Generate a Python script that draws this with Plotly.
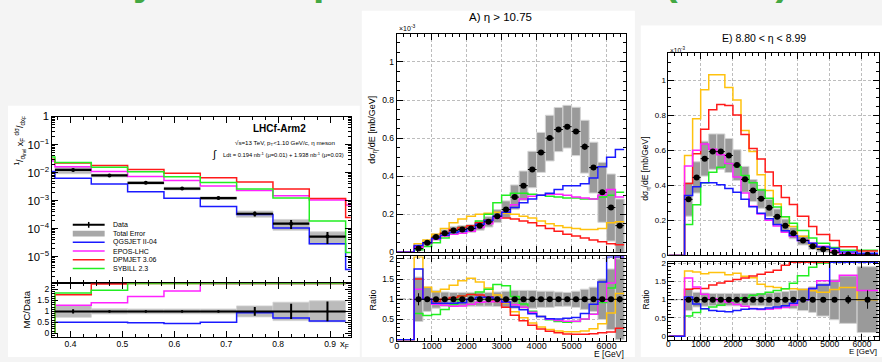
import plotly.graph_objects as go

W, H = 882, 362
FONT = "Liberation Sans"

# ---------------- left panel: x_F spectrum (LHCf Arm2, eta meson) ----------------
xf_edges = [0.37, 0.44, 0.51, 0.58, 0.65, 0.72, 0.79, 0.86, 0.93]
xf_data = [1.25e-2, 7.9e-3, 4.3e-3, 2.7e-3, 1.23e-3, 3.4e-4, 1.5e-4, 5.2e-5]
xf_stat_rel = [0.10, 0.05, 0.05, 0.05, 0.05, 0.20, 0.35, 0.45]
xf_tot_rel = [0.27, 0.12, 0.11, 0.11, 0.11, 0.25, 0.42, 0.48]

# model histograms: a narrow bin below 0.37, the 8 analysis bins, a narrow bin above 0.93
xf_mc_edges = [0.364, 0.37, 0.44, 0.51, 0.58, 0.65, 0.72, 0.79, 0.86, 0.93, 0.94]
xf_qgsjet = [1.1e-2, 6.3e-3, 3.95e-3, 2.06e-3, 1.22e-3, 6.2e-4, 3.2e-4, 1.05e-4, 2.9e-5, 3.5e-6]
xf_epos = [2.6e-2, 1.6e-2, 1.1e-2, 7.2e-3, 5.2e-3, 3.3e-3, 2.3e-3, 1.5e-3, 1.05e-3, 7.0e-4]
xf_dpmjet = [3.0e-2, 2.2e-2, 1.78e-2, 1.29e-2, 9.5e-3, 6.5e-3, 4.6e-3, 2.6e-3, 1.2e-3, 2.5e-4]
xf_sibyll = [3.6e-2, 2.3e-2, 1.55e-2, 1.07e-2, 7.1e-3, 4.4e-3, 2.6e-3, 1.23e-3, 1.86e-4, 1.4e-5]

# ---------------- panel A: eta > 10.75, energy spectrum [x1e-3 mb/GeV] ----------------
a_edges = [0, 250, 500, 750, 1000, 1250, 1500, 1750, 2000, 2250, 2500, 2750, 3000, 3250,
           3500, 3750, 4000, 4250, 4500, 4750, 5000, 5250, 5500, 5750, 6000, 6250, 6500]
a_data = [0.020, 0.050, 0.080, 0.100, 0.115, 0.120, 0.125, 0.140, 0.160, 0.190, 0.225, 0.290,
          0.350, 0.435, 0.525, 0.600, 0.645, 0.660, 0.635, 0.555, 0.445, 0.315, 0.235, 0.140]
a_stat_rel = [0.15, 0.06, 0.04, 0.03, 0.03, 0.03, 0.03, 0.03, 0.03, 0.03, 0.03, 0.03,
              0.03, 0.02, 0.02, 0.02, 0.02, 0.02, 0.02, 0.03, 0.03, 0.04, 0.05, 0.08]
a_tot_rel = [0.55, 0.30, 0.22, 0.18, 0.17, 0.17, 0.17, 0.17, 0.17, 0.18, 0.20, 0.22,
             0.22, 0.22, 0.20, 0.20, 0.18, 0.17, 0.20, 0.25, 0.30, 0.50, 0.75, 1.00]
a_qgsjet = [0, 0, 0.035, 0.050, 0.072, 0.090, 0.104, 0.110, 0.125, 0.147, 0.168, 0.190, 0.210,
            0.235, 0.260, 0.280, 0.300, 0.310, 0.330, 0.350, 0.350, 0.360, 0.390, 0.450, 0.500, 0.540]
a_epos = [0, 0, 0.025, 0.050, 0.070, 0.085, 0.095, 0.100, 0.110, 0.130, 0.150, 0.180, 0.210,
          0.250, 0.280, 0.295, 0.300, 0.305, 0.305, 0.300, 0.290, 0.285, 0.280, 0.300, 0.330, 0.290]
a_dpmjet = [0, 0, 0.030, 0.050, 0.075, 0.100, 0.120, 0.130, 0.140, 0.155, 0.170, 0.180, 0.180,
            0.175, 0.165, 0.155, 0.140, 0.125, 0.110, 0.095, 0.085, 0.075, 0.065, 0.055, 0.045, 0.040]
a_sibyll = [0, 0, 0.013, 0.030, 0.050, 0.075, 0.100, 0.130, 0.140, 0.165, 0.200, 0.260, 0.300,
            0.310, 0.310, 0.305, 0.300, 0.295, 0.290, 0.285, 0.285, 0.280, 0.280, 0.290, 0.300, 0.315]
a_pythia = [0, 0, 0.045, 0.065, 0.095, 0.125, 0.155, 0.175, 0.190, 0.200, 0.205, 0.210, 0.205,
            0.200, 0.190, 0.180, 0.165, 0.150, 0.140, 0.130, 0.125, 0.120, 0.120, 0.125, 0.155, 0.160]

# ---------------- panel E: 8.80 < eta < 8.99 ----------------
e_edges = [0, 250, 500, 750, 1000, 1250, 1500, 1750, 2000, 2250, 2500, 2750, 3000, 3250,
           3500, 3750, 4000, 4350, 4600, 5000, 5300, 5850, 6500]
e_data = [0.320, 0.445, 0.552, 0.592, 0.592, 0.570, 0.515, 0.434, 0.370, 0.324, 0.272, 0.221,
          0.170, 0.127, 0.086, 0.053, 0.035, 0.018, 0.006, 0.004]
e_stat_rel = [0.03, 0.02, 0.02, 0.02, 0.02, 0.02, 0.02, 0.02, 0.02, 0.02, 0.02, 0.02,
              0.02, 0.03, 0.03, 0.03, 0.04, 0.05, 0.12, 0.25]
e_tot_rel = [0.30, 0.20, 0.18, 0.17, 0.17, 0.17, 0.17, 0.17, 0.17, 0.17, 0.18, 0.20,
             0.22, 0.25, 0.30, 0.35, 0.45, 0.55, 0.65, 0.90]
e_qgsjet = [0, 0, 0.342, 0.392, 0.414, 0.414, 0.403, 0.382, 0.361, 0.321, 0.278, 0.240, 0.209,
            0.177, 0.141, 0.114, 0.086, 0.069, 0.049, 0.040, 0.020, 0.012]
e_epos = [0, 0, 0.510, 0.600, 0.635, 0.605, 0.574, 0.524, 0.448, 0.356, 0.281, 0.237, 0.201,
          0.168, 0.133, 0.108, 0.086, 0.069, 0.053, 0.027, 0.010, 0.005]
e_dpmjet = [0, 0, 0.410, 0.580, 0.720, 0.830, 0.860, 0.855, 0.800, 0.690, 0.610, 0.550, 0.476,
            0.398, 0.330, 0.290, 0.224, 0.165, 0.120, 0.085, 0.050, 0.025]
e_sibyll = [0, 0, 0.176, 0.289, 0.414, 0.474, 0.503, 0.524, 0.505, 0.456, 0.414, 0.373, 0.326,
            0.276, 0.221, 0.184, 0.142, 0.100, 0.070, 0.045, 0.030, 0.030]
e_pythia = [0, 0, 0.570, 0.780, 0.944, 1.030, 1.030, 0.958, 0.886, 0.712, 0.592, 0.460, 0.370,
            0.294, 0.221, 0.165, 0.110, 0.066, 0.042, 0.023, 0.008, 0.004]

BLUE, MAGENTA, RED, GREEN, ORANGE = "#1a1aff", "#ff22ff", "#ff1a1a", "#22ee22", "#ffc20e"


def px(x):
    return x / W


def py(y):
    return 1 - y / H


def centers(edges):
    return [(a + b) / 2 for a, b in zip(edges[:-1], edges[1:])]


def widths(edges):
    return [b - a for a, b in zip(edges[:-1], edges[1:])]


def step(edges, vals, color, xa, ya, width=1.5):
    return go.Scatter(x=list(edges), y=list(vals) + [vals[-1]], mode="lines",
                      line=dict(color=color, width=width, shape="hv"),
                      xaxis=xa, yaxis=ya, showlegend=False, hoverinfo="skip")


def ratio(mc, data, offset, top):
    out = []
    for i, v in enumerate(mc):
        j = i - offset
        r = v / data[j] if 0 <= j < len(data) and data[j] > 0 else 0.0
        out.append(min(r, top))
    return out


def err_boxes(edges, lo, hi, xa, ya, color="#9a9a9a", edge="#d4d4d4"):
    return go.Bar(x=centers(edges), y=[h - l for l, h in zip(lo, hi)], base=lo,
                  width=widths(edges), marker=dict(color=color, line=dict(color=edge, width=1)),
                  xaxis=xa, yaxis=ya, showlegend=False, hoverinfo="skip")


fig = go.Figure()

# ---- left panel ----
xf_lo = [d * (1 - e) for d, e in zip(xf_data, xf_tot_rel)]
xf_hi = [d * (1 + e) for d, e in zip(xf_data, xf_tot_rel)]
fig.add_trace(err_boxes(xf_edges, xf_lo, xf_hi, "x", "y", color="rgba(150,150,150,0.65)", edge="rgba(210,210,210,0.8)"))
for vals, col in [(xf_qgsjet, BLUE), (xf_epos, MAGENTA), (xf_dpmjet, RED), (xf_sibyll, GREEN)]:
    fig.add_trace(step(xf_mc_edges, vals, col, "x", "y"))
fig.add_trace(go.Scatter(
    x=centers(xf_edges), y=xf_data, mode="markers", marker=dict(color="black", size=4),
    error_x=dict(type="data", array=[w / 2 for w in widths(xf_edges)], width=0, thickness=2.2, color="black"),
    error_y=dict(type="data", array=[d * s for d, s in zip(xf_data, xf_stat_rel)], width=0, thickness=2, color="black"),
    xaxis="x", yaxis="y", showlegend=False, hoverinfo="skip"))

XF_RTOP = 2.27
fig.add_trace(err_boxes(xf_edges, [1 - e for e in xf_tot_rel], [1 + e for e in xf_tot_rel], "x2", "y2",
                        color="rgba(150,150,150,0.65)", edge="rgba(210,210,210,0.8)"))
for vals, col in [(xf_qgsjet, BLUE), (xf_epos, MAGENTA), (xf_dpmjet, RED), (xf_sibyll, GREEN)]:
    r = ratio(vals[1:9], xf_data, 0, XF_RTOP)
    fig.add_trace(step([xf_edges[0]] + xf_edges, [0.0] + r, col, "x2", "y2"))
xf_one = [d / d for d in xf_data]
fig.add_trace(step(xf_edges, xf_one, "black", "x2", "y2", width=2))
fig.add_trace(go.Scatter(
    x=centers(xf_edges), y=xf_one, mode="markers", marker=dict(color="black", size=2),
    error_y=dict(type="data", array=xf_stat_rel, width=0, thickness=2, color="black"),
    xaxis="x2", yaxis="y2", showlegend=False, hoverinfo="skip"))


def energy_panel(edges, data, stat_rel, tot_rel, models, xa_u, ya_u, xa_r, ya_r, rtop):
    dedges = edges[2:]
    lo = [max(d * (1 - e), 0) for d, e in zip(data, tot_rel)]
    hi = [d * (1 + e) for d, e in zip(data, tot_rel)]
    fig.add_trace(err_boxes(dedges, lo, hi, xa_u, ya_u))
    for vals, col in models:
        fig.add_trace(step(edges, vals, col, xa_u, ya_u))
    fig.add_trace(go.Scatter(
        x=centers(dedges), y=data, mode="markers", marker=dict(color="black", size=6),
        error_x=dict(type="data", array=[w / 2 for w in widths(dedges)], width=0, thickness=1, color="black"),
        error_y=dict(type="data", array=[d * s for d, s in zip(data, stat_rel)], width=0, thickness=1, color="black"),
        xaxis=xa_u, yaxis=ya_u, showlegend=False, hoverinfo="skip"))
    # ratio pad
    fig.add_trace(err_boxes(dedges, [1 - e for e in tot_rel], [1 + e for e in tot_rel], xa_r, ya_r))
    for vals, col in models:
        fig.add_trace(step(edges, ratio(vals, data, 2, rtop), col, xa_r, ya_r))
    fig.add_trace(go.Scatter(
        x=centers(dedges), y=[d / d for d in data], mode="markers", marker=dict(color="black", size=6),
        error_x=dict(type="data", array=[w / 2 for w in widths(dedges)], width=0, thickness=1, color="black"),
        error_y=dict(type="data", array=stat_rel, width=0, thickness=1, color="black"),
        xaxis=xa_r, yaxis=ya_r, showlegend=False, hoverinfo="skip"))


A_RTOP, E_RTOP = 2.055, 2.025
energy_panel(a_edges, a_data, a_stat_rel, a_tot_rel,
             [(a_pythia, ORANGE), (a_sibyll, GREEN), (a_dpmjet, RED), (a_epos, MAGENTA), (a_qgsjet, BLUE)],
             "x3", "y3", "x4", "y4", A_RTOP)
energy_panel(e_edges, e_data, e_stat_rel, e_tot_rel,
             [(e_pythia, ORANGE), (e_sibyll, GREEN), (e_dpmjet, RED), (e_epos, MAGENTA), (e_qgsjet, BLUE)],
             "x5", "y5", "x6", "y6", E_RTOP)


def axis(domain, rng, anchor, size=9, **kw):
    d = dict(domain=domain, range=rng, anchor=anchor, showline=True, linecolor="black", linewidth=1,
             mirror="allticks", ticks="inside", ticklen=6, tickcolor="black", tickwidth=1,
             zeroline=False, showgrid=False, fixedrange=True,
             tickfont=dict(family=FONT, size=size, color="black"))
    d.update(kw)
    return d


GRID = dict(showgrid=True, gridcolor="#bdbdbd", griddash="3px,2px", gridwidth=1)


def minor(dt, ln=3):
    return dict(ticks="inside", ticklen=ln, tickcolor="black", dtick=dt, showgrid=False)


lx = [px(49), px(349)]
ax_ = [px(395), px(625)]
ex = [px(667.7), px(879)]

fig.update_layout(
    width=W, height=H, margin=dict(l=0, r=0, t=0, b=0),
    paper_bgcolor="#f4f4f4", plot_bgcolor="white", barmode="overlay", showlegend=False,
    font=dict(family=FONT, color="black"),
    xaxis=axis(lx, [0.364, 0.94], "y", showticklabels=False, dtick=0.1, minor=minor(0.025)),
    yaxis=axis([py(285.7), py(114)], [-5.94, 0], "x", type="log", dtick=1, exponentformat="power",
               minor=dict(ticks="inside", ticklen=3, tickcolor="black", dtick="D1")),
    xaxis2=axis(lx, [0.364, 0.94], "y2", dtick=0.1, size=8.5, minor=minor(0.025), ticklabelstandoff=-1),
    yaxis2=axis([py(341), py(286)], [-0.15, 2.28], "x2", dtick=0.5, size=8.5, minor=minor(0.1)),
    xaxis3=axis(ax_, [0, 6550], "y3", showticklabels=False, dtick=1000, minor=minor(200), **GRID),
    yaxis3=axis([py(254), py(29.3)], [0, 1.145], "x3", dtick=0.2, size=8.5, minor=minor(0.05), **GRID),
    xaxis4=axis(ax_, [0, 6550], "y4", dtick=1000, minor=minor(200), ticklabelstandoff=-3, **GRID),
    yaxis4=axis([py(345), py(258.3)], [-0.02, 2.06], "x4", dtick=0.5, size=8.5, minor=minor(0.1), **GRID),
    xaxis5=axis(ex, [0, 6530], "y5", showticklabels=False, dtick=1000, minor=minor(200), **GRID),
    yaxis5=axis([py(257.3), py(48.3)], [0, 1.155], "x5", dtick=0.2, size=8, minor=minor(0.05), **GRID),
    xaxis6=axis(ex, [0, 6530], "y6", dtick=1000, size=8.5, minor=minor(200), ticklabelstandoff=-4, **GRID),
    yaxis6=axis([py(344.3), py(264)], [-0.1, 2.03], "x6", dtick=0.5, size=8, minor=minor(0.1), **GRID),
)

# white pads on the grey slide
shapes = []
for x0, y0, x1, y1 in [(5, 103, 358, 362), (360, 5, 634, 362), (640, 20, 882, 362)]:
    shapes.append(dict(type="rect", xref="paper", yref="paper", x0=px(x0), x1=px(x1), y0=py(y1), y1=py(y0),
                       fillcolor="white", line=dict(width=0), layer="below"))
# dashed reference lines at ratio = 1
for xr, yr in [("x4 domain", "y4"), ("x6 domain", "y6")]:
    shapes.append(dict(type="line", xref=xr, yref=yr, x0=0, x1=1, y0=1, y1=1,
                       line=dict(color="black", width=1, dash="dashdot"), layer="below"))

# legend of the x_F panel
leg_y = [225.7, 234.7, 243.7, 252.7, 261.7, 270.7]
leg_items = [("Data", "black"), ("Total Error", "#a8a8a8"), ("QGSJET II-04", BLUE),
             ("EPOS-LHC", MAGENTA), ("DPMJET 3.06", RED), ("SYBILL 2.3", GREEN)]
annotations = []
for (label, col), yy in zip(leg_items, leg_y):
    if label == "Total Error":
        shapes.append(dict(type="rect", xref="paper", yref="paper", x0=px(70), x1=px(102),
                           y0=py(yy + 3), y1=py(yy - 3), fillcolor=col, line=dict(width=0)))
    else:
        shapes.append(dict(type="line", xref="paper", yref="paper", x0=px(70), x1=px(102), y0=py(yy), y1=py(yy),
                           line=dict(color=col, width=2 if label == "Data" else 1.5)))
    if label == "Data":
        shapes.append(dict(type="line", xref="paper", yref="paper", x0=px(86), x1=px(86),
                           y0=py(yy + 3), y1=py(yy - 3), line=dict(color="black", width=1.5)))
    annotations.append(dict(x=px(108), y=py(yy), xref="paper", yref="paper", text=label, showarrow=False,
                            xanchor="left", yanchor="middle", font=dict(size=7, family=FONT)))


def note(x, y, text, size=9, xanchor="center", yanchor="middle", angle=0, bold=False, color="black"):
    annotations.append(dict(x=px(x), y=py(y), xref="paper", yref="paper", text=f"<b>{text}</b>" if bold else text,
                            showarrow=False, xanchor=xanchor, yanchor=yanchor, textangle=angle,
                            font=dict(size=size, family=FONT, color=color)))


# slide heading, running above the top edge
note(37.5, 0, "Study of the spectra at the LHC (LHCf)", size=41, xanchor="left", yanchor="bottom",
     bold=True, color="#43a843")

# x_F panel texts
note(277, 126, "LHCf-Arm2", size=10, bold=True)
note(283, 141, "√s=13 TeV, p<sub>T</sub><1.10 GeV/c, η meson", size=6.2)
note(212, 153, "∫", size=11)
note(281, 153, "Ldt = 0.194 nb<sup>-1</sup> (μ=0.01) + 1.938 nb<sup>-1</sup> (μ=0.03)", size=5.8)
note(17, 111, "<sup>1</sup>/<sub>σ<sub>inel</sub></sub> x<sub>F</sub> <sup>dσ</sup>/<sub>dx<sub>F</sub></sub>",
     size=9, angle=-90, yanchor="top")
note(24, 313, "MC/Data", size=9.5, angle=-90)
note(343, 349, "x<sub>F</sub>", size=9.5)

# panel A texts
note(499, 11, "A) η > 10.75", size=11.5)
note(395, 23, "×10<sup>-3</sup>", size=7, xanchor="left")
note(371, 128, "dσ<sub>η</sub>/dE [mb/GeV]", size=9, angle=-90)
note(371, 303, "Ratio", size=9, angle=-90)
note(625, 358.5, "E [GeV]", size=8.5, xanchor="right")

# panel E texts
note(764, 33, "E) 8.80 < η < 8.99", size=10.5)
note(667, 45, "×10<sup>-3</sup>", size=6.5, xanchor="left")
note(645, 168, "dσ<sub>η</sub>/dE [mb/GeV]", size=8.5, angle=-90)
note(645, 303, "Ratio", size=8.5, angle=-90)
note(879, 356, "E [GeV]", size=8, xanchor="right")

fig.update_layout(shapes=shapes, annotations=annotations)
fig.write_html("out.html")
